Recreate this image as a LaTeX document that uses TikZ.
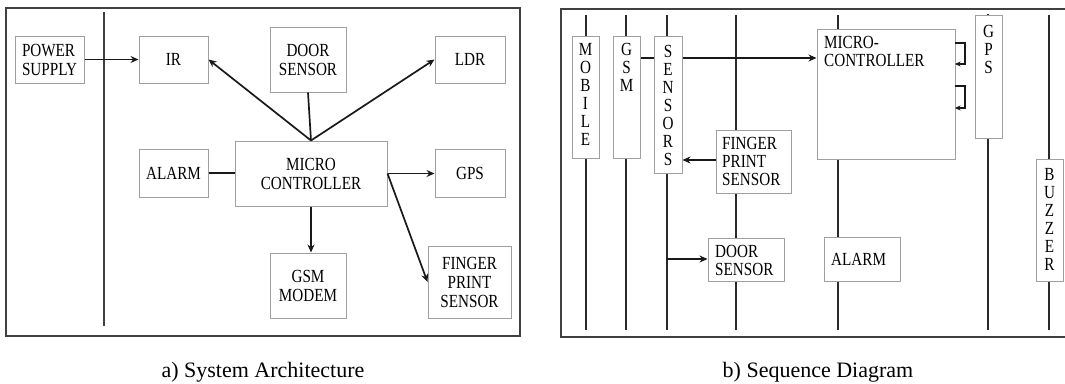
\documentclass[tikz,border=0pt]{standalone}
\usepackage{fontspec}
\setmainfont{Liberation Serif}
\newfontfamily\boxfont[FakeStretch=0.82]{Liberation Serif}
\usetikzlibrary{arrows.meta}
\definecolor{boxgray}{HTML}{A0A0A0}
\definecolor{framegray}{HTML}{404040}
\definecolor{linegray}{HTML}{2A2A2A}
\begin{document}
\begin{tikzpicture}[x=1pt,y=-1pt,
  box/.style={draw=boxgray,line width=1pt,fill=white,inner sep=0pt,
    font=\boxfont\fontsize{18.5}{19}\selectfont,align=center},
  txt/.style={inner sep=0pt,font=\boxfont\fontsize{18.5}{18}\selectfont},
  vtxt/.style={txt,align=center,anchor=north},
  ltxt/.style={txt,align=left,anchor=north west},
  frame/.style={draw=framegray,line width=1.4pt},
  life/.style={draw=linegray,line width=1.6pt},
  conn/.style={draw=black!90,line width=1.7pt},
  arr/.style={conn,-{Stealth[length=8pt,width=7pt]}},
  sarr/.style={draw=black!90,line width=1.2pt,-{Stealth[length=5.5pt,width=5pt]}},
  captxt/.style={inner sep=0pt,font=\fontsize{22}{26}\selectfont,anchor=base}]
\useasboundingbox (0,0) rectangle (1065,383);

% ---------------- (a) System Architecture ----------------
\draw[frame] (6,8) rectangle (520,336);
\coordinate (vt) at (104,12);
\coordinate (vb) at (104,326);
\draw[draw=framegray,line width=2.2pt] (vt) -- (vb);

\node[box,minimum width=69pt,minimum height=47pt,align=left] (pws) at (49.5,59.5) {POWER\\SUPPLY};
\node[box,minimum width=69pt,minimum height=47pt] (ir) at (173.5,59.5) {IR};
\node[box,minimum width=76pt,minimum height=65pt] (door) at (308,59.5) {DOOR\\SENSOR};
\node[box,minimum width=70pt,minimum height=47pt] (ldr) at (470,59.5) {LDR};
\node[box,minimum width=69pt,minimum height=48pt] (alarm) at (173.5,173) {ALARM};
\node[box,minimum width=152pt,minimum height=65pt] (mc) at (311,173.5) {MICRO\\CONTROLLER};
\node[box,minimum width=70pt,minimum height=48pt] (gps) at (470,173) {GPS};
\node[box,minimum width=76pt,minimum height=65pt] (gsm) at (308,285.5) {GSM\\MODEM};
\node[box,minimum width=83pt,minimum height=72pt] (fps) at (469.5,282) {FINGER\\PRINT\\SENSOR};

\draw[arr] (pws.east) -- (ir.west);
\draw[conn] (door.south) -- (mc.north);
\draw[arr] (mc.north) -- (ir.east);
\draw[arr] (mc.north) -- (ldr.west);
\draw[conn] (alarm.east) -- (alarm.east -| mc.west);
\draw[arr] (mc.east) -- (mc.east -| gps.west);
\draw[arr] (mc.east) -- (fps.west);
\draw[arr] (mc.south) -- (mc.south |- gsm.north);

\node[captxt] (capa) at (263,377) {a) System Architecture};

% ---------------- (b) Sequence Diagram ----------------
\draw[frame] (1067,9) -- (561,9) -- (561,337) -- (1067,337);

\coordinate (l1t) at (586,15);  \coordinate (l1b) at (586,330);
\coordinate (l2t) at (626,15);  \coordinate (l2b) at (626,330);
\coordinate (l3t) at (667,15);  \coordinate (l3b) at (667,330);
\coordinate (l4t) at (736,15);  \coordinate (l4b) at (736,330);
\coordinate (l5t) at (838,15);  \coordinate (l5b) at (838,330);
\coordinate (l6t) at (988,14);  \coordinate (l6b) at (988,330);
\coordinate (l7t) at (1049,15); \coordinate (l7b) at (1049,330);
\foreach \i in {1,...,7} { \draw[life] (l\i t) -- (l\i b); }

% message GSM -> microcontroller (drawn beneath the boxes)
\coordinate (gsmout) at (640,58);
\node[box,minimum width=138pt,minimum height=130pt] (smc) at (886,94) {};
\draw[arr] (gsmout) -- (gsmout -| smc.west);

\node[box,minimum width=27pt,minimum height=122pt] (smob) at (585.5,97) {};
\node[box,minimum width=27pt,minimum height=122pt] (sgsm) at (626.5,97) {};
\node[box,minimum width=28pt,minimum height=137pt] (ssen) at (668,104.5) {};
\node[box,minimum width=75pt,minimum height=63pt] (sfps) at (753.5,161.5) {};
\node[box,minimum width=76pt,minimum height=43pt] (sdoor) at (746,259.5) {};
\node[box,minimum width=76pt,minimum height=44pt] (salarm) at (862,259) {};
\node[box,minimum width=27pt,minimum height=123pt] (sgps) at (988.5,76.5) {};
\node[box,minimum width=27pt,minimum height=122pt] (sbuz) at (1049.5,220) {};

\node[vtxt] (tmob) at (585.5,43) {M\\O\\B\\I\\L\\E};
\node[vtxt] (tgsm) at (626.5,43) {G\\S\\M};
\node[vtxt] (tsen) at (668,45) {S\\E\\N\\S\\O\\R\\S};
\node[vtxt] (tgps) at (988.5,25) {G\\P\\S};
\node[vtxt] (tbuz) at (1049.5,168) {B\\U\\Z\\Z\\E\\R};
\node[ltxt] (tmc) at (824,36) {MICRO-\\CONTROLLER};
\node[ltxt] (tfps) at (722,137) {FINGER\\PRINT\\SENSOR};
\node[ltxt] (tdoor) at (715,245) {DOOR\\SENSOR};
\node[txt,anchor=west] (talarm) at (831,259) {ALARM};

\coordinate (fpsout) at (716,160);
\draw[arr] (fpsout) -- (fpsout -| ssen.east);
\coordinate (senout) at (667,259);
\draw[arr] (senout) -- (senout -| sdoor.west);

% self messages on the microcontroller
\coordinate (s1a) at (955,43);  \coordinate (s1b) at (955,64);
\coordinate (s2a) at (955,86);  \coordinate (s2b) at (955,108);
\draw[sarr] (s1a) -- ++(10,0) |- (s1b);
\draw[sarr] (s2a) -- ++(10,0) |- (s2b);

\node[captxt] (capb) at (818,377) {b) Sequence Diagram};
\end{tikzpicture}
\end{document}
